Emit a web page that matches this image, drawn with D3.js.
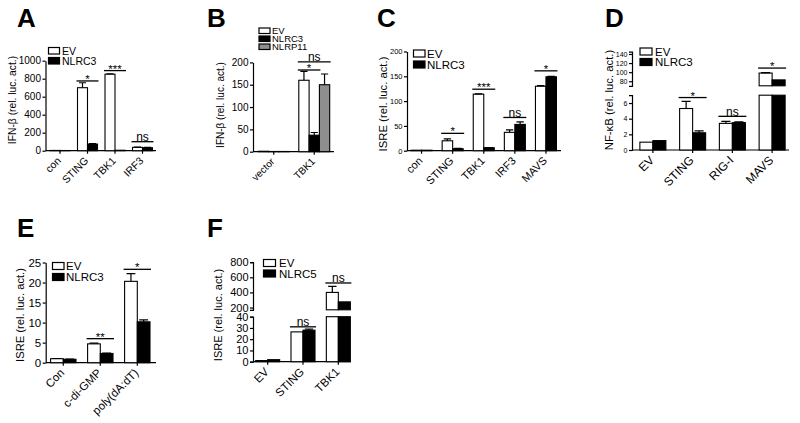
<!DOCTYPE html>
<html><head><meta charset="utf-8">
<script src="https://cdn.jsdelivr.net/npm/d3@7"></script>
<style>body{margin:0;background:#fff}svg{display:block}</style>
</head><body>
<svg id="c" width="800" height="423"></svg>
<script>
// ---------- DATA ----------
const aCats = ["con","STING","TBK1","IRF3"];
const aEV = [3, 700, 850, 37];
const aEVErr = [0, 55, 5, 3];
const aNLRC3 = [2, 74, 5, 33];
const aNLRC3Err = [0, 5, 0, 3];
const aTicks = [0,200,400,600,800,1000];
const aSig = [{cat:"STING",a:0,b:1,v:775,t:"*"},{cat:"TBK1",a:0,b:1,v:890,t:"***"},{cat:"IRF3",a:0,b:1,v:100,t:"ns"}];

const bCats = ["vector","TBK1"];
const bEV = [1, 160];
const bEVErr = [0, 20];
const bNLRC3 = [0.5, 37];
const bNLRC3Err = [0, 6];
const bNLRP11 = [0.5, 150];
const bNLRP11Err = [0, 24];
const bTicks = [0,50,100,150,200];
const bSig = [{cat:"TBK1",a:0,b:1,v:183,t:"*"},{cat:"TBK1",a:0,b:2,v:201,t:"ns"}];

const cCats = ["con","STING","TBK1","IRF3","MAVS"];
const cEV = [1, 20, 114, 37, 130];
const cEVErr = [0, 4, 0.5, 5, 1];
const cNLRC3 = [1, 4, 6, 53, 149];
const cNLRC3Err = [0, 0.5, 0.5, 5, 1];
const cTicks = [0,50,100,150,200];
const cSig = [{cat:"STING",a:0,b:1,v:35,t:"*"},{cat:"TBK1",a:0,b:1,v:124,t:"***"},{cat:"IRF3",a:0,b:1,v:67,t:"ns"},{cat:"MAVS",a:0,b:1,v:161,t:"*"}];

const dCats = ["EV","STING","RIG-I","MAVS"];
const dEV = [1.0, 5.3, 3.4, 98];
const dEVErr = [0, 0.9, 0.25, 1];
const dNLRC3 = [1.2, 2.2, 3.5, 83];
const dNLRC3Err = [0, 0.25, 0.1, 0];
const dTicksLow = [0,2,4,6];
const dTicksHigh = [80,100,120,140];
const dSig = [{cat:"STING",a:0,b:1,v:6.7,seg:0,t:"*"},{cat:"RIG-I",a:0,b:1,v:4.3,seg:0,t:"ns"},{cat:"MAVS",a:0,b:1,v:109,seg:1,t:"*"}];

const eCats = ["Con","c-di-GMP","poly(dA:dT)"];
const eEV = [1.0, 4.7, 20.3];
const eEVErr = [0.05, 0.2, 1.9];
const eNLRC3 = [0.85, 2.3, 10.2];
const eNLRC3Err = [0.05, 0.1, 0.5];
const eTicks = [0,5,10,15,20,25];
const eSig = [{cat:"c-di-GMP",a:0,b:1,v:6.0,t:"**"},{cat:"poly(dA:dT)",a:0,b:1,v:23.3,t:"*"}];

const fCats = ["EV","STING","TBK1"];
const fEV = [1.0, 26.5, 400];
const fEVErr = [0, 0, 80];
const fNLRC5 = [1.8, 28, 275];
const fNLRC5Err = [0, 1, 0];
const fTicksLow = [0,10,20,30,40];
const fTicksHigh = [200,400,600,800];
const fSig = [{cat:"STING",a:0,b:1,v:31,seg:0,t:"ns"},{cat:"TBK1",a:0,b:1,v:525,seg:1,t:"ns"}];

// ---------- DRAW ----------
const FONT = "'Liberation Sans', Arial, Helvetica, sans-serif";
const svg = d3.select("#c").style("font-family", FONT);

function panel(p) {
  const g = svg.append("g");
  g.append("text").attr("x", p.letter[1]).attr("y", p.letter[2]).text(p.letter[0])
    .attr("font-size", 26).attr("font-weight", "bold");
  const x = d3.scaleBand().domain(p.cats).range(p.band);
  const segs = p.segs.map(s => ({...s, y: d3.scaleLinear().domain(s.domain).range(s.range)}));
  const base = segs[0].range[0];
  const n = p.series.length;
  segs.forEach(s => {
    const ax = g.append("g").attr("transform", `translate(${p.axX},0)`)
      .call(d3.axisLeft(s.y).tickValues(s.ticks).tickFormat(d3.format("d")).tickSize(3)
        .tickSizeOuter(segs.length > 1 ? 3 : 0).tickPadding(1.5));
    ax.selectAll("path,line").attr("stroke", "#000").attr("stroke-width", 1.2);
    ax.selectAll("text").attr("font-size", p.tickFont).attr("fill", "#000").attr("font-family", FONT);
  });
  const xa = g.append("g").attr("transform", `translate(0,${base})`)
    .call(d3.axisBottom(x).tickSize(3).tickSizeOuter(0));
  xa.select(".domain").remove();
  xa.selectAll("line").attr("stroke", "#000").attr("stroke-width", 1.2);
  xa.selectAll("text").attr("font-size", p.xFont).attr("fill", "#000").attr("font-family", FONT)
    .attr("text-anchor", "end").attr("x", 0).attr("y", 0).attr("dy", "0.35em")
    .attr("transform", `translate(${p.xlOff[0]},${p.xlOff[1]}) rotate(-45)`);
  g.append("line").attr("x1", p.axX).attr("x2", p.xEnd).attr("y1", base).attr("y2", base)
    .attr("stroke", "#000").attr("stroke-width", 1.2);
  const bx = (cat, k) => x(cat) + x.bandwidth() / 2 - n * p.barW / 2 + k * p.barW;
  p.series.forEach((s, k) => {
    p.cats.forEach((cat, i) => {
      const v = s.values[i];
      segs.forEach((sg, si) => {
        const lo = sg.domain[0];
        if (v <= lo && si > 0) return;
        const hi = Math.min(v, sg.domain[1]);
        const y0 = sg.y(lo), y1 = sg.y(hi);
        g.append("rect").attr("x", bx(cat, k)).attr("width", p.barW)
          .attr("y", y1).attr("height", Math.max(0, y0 - y1))
          .attr("fill", s.fill).attr("stroke", "#000").attr("stroke-width", 1.1);
      });
      const e = s.errs[i];
      if (e > 0) {
        const sg = segs.find(q => v >= q.domain[0] && v <= q.domain[1]) || segs[segs.length - 1];
        const cx = bx(cat, k) + p.barW / 2;
        const yt = sg.y(v + e), yb = sg.y(v);
        const cw = p.barW * 0.35;
        g.append("path").attr("d", `M${cx},${yb}V${yt}M${cx - cw},${yt}H${cx + cw}`)
          .attr("stroke", "#000").attr("stroke-width", 1.2).attr("fill", "none");
      }
    });
  });
  p.sig.forEach(s => {
    const sg = segs[s.seg || 0];
    const yy = sg.y(s.v);
    const x1 = bx(s.cat, s.a) - 1, x2 = bx(s.cat, s.b) + p.barW + 1;
    g.append("line").attr("x1", x1).attr("x2", x2).attr("y1", yy).attr("y2", yy)
      .attr("stroke", "#000").attr("stroke-width", 1.3);
    const star = s.t !== "ns";
    g.append("text").attr("x", (x1 + x2) / 2).attr("y", star ? yy + 2 : yy - 0.8)
      .attr("text-anchor", "middle").attr("font-size", star ? 11.5 : 12).text(s.t);
  });
  p.legend.items.forEach((it, i) => {
    const L = p.legend;
    const yy = L.y + i * L.dy;
    g.append("rect").attr("x", L.x).attr("y", yy).attr("width", L.w).attr("height", L.h)
      .attr("fill", it[1]).attr("stroke", "#000").attr("stroke-width", 1.2);
    g.append("text").attr("x", L.tx).attr("y", yy + L.h / 2).attr("dy", "0.36em")
      .attr("font-size", L.font).text(it[0]);
  });
  g.append("text").attr("transform", `translate(${p.yt[0]},${p.yt[1]}) rotate(-90)`)
    .attr("text-anchor", "middle").attr("dy", "0.35em").attr("font-size", p.ytFont).text(p.ytitle);
}

const W = "#fff", K = "#000", G = "#8e8e8e";

panel({letter:["A",17,27], cats:aCats, band:[46.25,156.25], axX:45.5, xEnd:156,
  segs:[{domain:[0,1000], range:[150.7,60.7], ticks:aTicks}], barW:10, tickFont:10, xFont:10.5, xlOff:[-1,8],
  series:[{values:aEV, errs:aEVErr, fill:W},{values:aNLRC3, errs:aNLRC3Err, fill:K}], sig:aSig,
  legend:{x:48.5,y:47.5,dy:10,w:11,h:6.5,tx:62,font:10.5,items:[["EV",W],["NLRC3",K]]},
  yt:[12,100], ytFont:10.3, ytitle:"IFN-β (rel. luc. act.)"});

panel({letter:["B",207,27], cats:bCats, band:[253.5,334.5], axX:253, xEnd:334,
  segs:[{domain:[0,200], range:[151.7,62.4], ticks:bTicks}], barW:10.3, tickFont:10, xFont:10, xlOff:[-1,8],
  series:[{values:bEV, errs:bEVErr, fill:W},{values:bNLRC3, errs:bNLRC3Err, fill:K},{values:bNLRP11, errs:bNLRP11Err, fill:G}], sig:bSig,
  legend:{x:259,y:28,dy:8,w:11,h:5.5,tx:272,font:9.5,items:[["EV",W],["NLRC3",K],["NLRP11",G]]},
  yt:[220,105], ytFont:10, ytitle:"IFN-β (rel. luc. act.)"});

panel({letter:["C",377,27], cats:cCats, band:[406,561.5], axX:407, xEnd:561,
  segs:[{domain:[0,200], range:[150.7,51.5], ticks:cTicks}], barW:10.5, tickFont:7.5, xFont:11, xlOff:[-1,8],
  series:[{values:cEV, errs:cEVErr, fill:W},{values:cNLRC3, errs:cNLRC3Err, fill:K}], sig:cSig,
  legend:{x:413.5,y:50,dy:11,w:11.5,h:7,tx:427,font:11.5,items:[["EV",W],["NLRC3",K]]},
  yt:[383,104], ytFont:11.3, ytitle:"ISRE (rel. luc. act.)"});

panel({letter:["D",605,27], cats:dCats, band:[633,792], axX:632, xEnd:789,
  segs:[{domain:[0,7], range:[150,95.2], ticks:dTicksLow},{domain:[70,145], range:[85.8,51.7], ticks:dTicksHigh}],
  barW:13, tickFont:7, xFont:12, xlOff:[-1,8],
  series:[{values:dEV, errs:dEVErr, fill:W},{values:dNLRC3, errs:dNLRC3Err, fill:K}], sig:dSig,
  legend:{x:640,y:48,dy:10.5,w:12,h:7,tx:655,font:11.5,items:[["EV",W],["NLRC3",K]]},
  yt:[609.5,100], ytFont:11.3, ytitle:"NF-κB (rel. luc. act.)"});

panel({letter:["E",17,237], cats:eCats, band:[44.8,155.8], axX:45.7, xEnd:156,
  segs:[{domain:[0,25], range:[362.7,262.5], ticks:eTicks}], barW:12.7, tickFont:11.5, xFont:11.5, xlOff:[-1,8],
  series:[{values:eEV, errs:eEVErr, fill:W},{values:eNLRC3, errs:eNLRC3Err, fill:K}], sig:eSig,
  legend:{x:52.5,y:262.5,dy:11,w:11.5,h:7,tx:66,font:11.5,items:[["EV",W],["NLRC3",K]]},
  yt:[20,315], ytFont:11.2, ytitle:"ISRE (rel. luc. act.)"});

panel({letter:["F",207,237], cats:fCats, band:[250,356], axX:253, xEnd:350.7,
  segs:[{domain:[0,40], range:[361.7,316.7], ticks:fTicksLow},{domain:[170,800], range:[309.8,262.2], ticks:fTicksHigh}],
  barW:12, tickFont:11, xFont:11.5, xlOff:[-1,8],
  series:[{values:fEV, errs:fEVErr, fill:W},{values:fNLRC5, errs:fNLRC5Err, fill:K}], sig:fSig,
  legend:{x:263.5,y:259.5,dy:10.5,w:12,h:7,tx:279,font:11.5,items:[["EV",W],["NLRC5",K]]},
  yt:[218,315], ytFont:11, ytitle:"ISRE (rel. luc. act.)"});
</script>
</body></html>
